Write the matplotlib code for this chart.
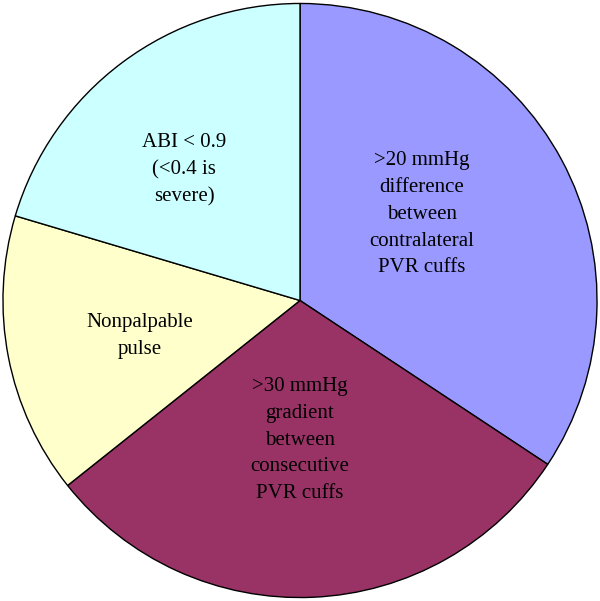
import matplotlib
matplotlib.use("Agg")
import matplotlib.pyplot as plt

labels = [">20 mmHg\ndifference\nbetween\ncontralateral\nPVR cuffs",
          ">30 mmHg\ngradient\nbetween\nconsecutive\nPVR cuffs",
          "Nonpalpable\npulse",
          "ABI < 0.9\n(<0.4 is\nsevere)"]
values = [34.3, 30.0, 15.3, 20.4]
colors = ["#9999FF", "#993366", "#FFFFCC", "#CCFFFF"]

fig = plt.figure(figsize=(6, 6.01), dpi=100)
ax = fig.add_axes([0, 0, 1, 1])
wedges, texts = ax.pie(values, colors=colors, startangle=90, counterclock=False,
                       labels=labels, labeldistance=0.5,
                       wedgeprops=dict(edgecolor="black", linewidth=1),
                       textprops=dict(family="Liberation Serif", fontsize=15,
                                      ha="center", va="center", linespacing=1.55))
pos = [(0.41, 0.29), (0.0, -0.47), (-0.54, -0.12), (-0.39, 0.44)]
for t, p in zip(texts, pos):
    t.set_position(p)
ax.set_xlim(-1.01, 1.01)
ax.set_ylim(-1.01, 1.01)
ax.set_aspect("equal")
fig.savefig("out.png")
